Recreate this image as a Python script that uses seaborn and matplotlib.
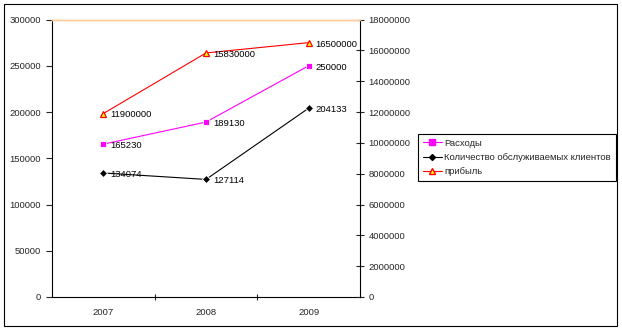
import matplotlib
matplotlib.use("Agg")
import matplotlib.pyplot as plt
import seaborn as sns
import pandas as pd
from matplotlib.patches import Rectangle
from matplotlib.ticker import FuncFormatter, FixedLocator
from matplotlib.lines import Line2D

years = ["2007", "2008", "2009"]
expenses = [165230, 189130, 250000]
clients = [134074, 127114, 204133]
profit = [11900000, 15830000, 16500000]
names = ["Расходы", "Количество обслуживаемых клиентов", "прибыль"]

sns.set_theme(style="white")
plt.rcParams["font.family"] = ["Liberation Sans", "DejaVu Sans"]
FS = 6.8

df1 = pd.DataFrame({"year": years * 2,
                    "value": expenses + clients,
                    "series": [names[0]] * 3 + [names[1]] * 3})
df2 = pd.DataFrame({"year": years, "value": profit, "series": [names[2]] * 3})

W, H = 622, 332
fig = plt.figure(figsize=(W / 100, H / 100), dpi=100)
fig.patch.set_facecolor("white")
ax = fig.add_axes([52 / W, (H - 297) / H, 308 / W, 277.5 / H])
ax2 = ax.twinx()

pal = {names[0]: "#FF00FF", names[1]: "#000000"}
sns.lineplot(data=df1, x="year", y="value", hue="series", style="series",
             palette=pal, markers={names[0]: "s", names[1]: "D"},
             dashes=False, lw=0.8, markersize=4, markeredgewidth=0.6,
             ax=ax, legend=False, sort=False)
sns.lineplot(data=df2, x="year", y="value", color="#FF0000", marker="^",
             markersize=5, markerfacecolor="#FFFF00", markeredgecolor="#FF0000",
             markeredgewidth=0.9, lw=0.8, ax=ax2, legend=False, sort=False)

for i, y in enumerate(years):
    for vals, a in ((expenses, ax), (clients, ax), (profit, ax2)):
        a.annotate(str(vals[i]), (i, vals[i]), xytext=(5, -1),
                   textcoords="offset points", ha="left", va="center",
                   fontsize=FS, color="black")

ax.set_xlim(-0.5, 2.5)
ax.set_ylim(0, 300000)
ax2.set_ylim(0, 18000000)
ax.set_yticks(range(0, 300001, 50000))
ax2.set_yticks(range(0, 18000001, 2000000))
fmt = FuncFormatter(lambda v, p: f"{int(round(v))}")
ax.yaxis.set_major_formatter(fmt)
ax2.yaxis.set_major_formatter(fmt)
ax.set_xlabel("")
ax.set_ylabel("")
ax2.set_ylabel("")
ax.set_xticks(range(len(years)))
ax.set_xticklabels(years)
ax.xaxis.set_minor_locator(FixedLocator([0.5, 1.5]))

ax.tick_params(axis="x", which="major", length=0, pad=8, labelsize=FS)
ax.tick_params(axis="x", which="minor", direction="inout", length=5,
               width=0.8, bottom=True)
ax.tick_params(axis="y", which="major", direction="out", length=4,
               width=0.8, pad=4, labelsize=FS, left=True)
ax2.tick_params(axis="y", which="major", direction="inout", length=6,
                width=0.8, pad=3, labelsize=FS, right=True)

for a in (ax, ax2):
    for s in ("left", "right", "bottom"):
        a.spines[s].set_color("black")
        a.spines[s].set_linewidth(0.8)
    a.spines["top"].set_color("#FFCC99")
    a.spines["top"].set_linewidth(1.0)
    a.grid(False)
ax.spines["right"].set_visible(False)
ax2.spines["left"].set_visible(False)
ax2.spines["bottom"].set_visible(False)

handles = [
    Line2D([], [], color="#FF00FF", marker="s", lw=0.8, markersize=4),
    Line2D([], [], color="#000000", marker="D", lw=0.8, markersize=3),
    Line2D([], [], color="#FF0000", marker="^", lw=0.8, markersize=5,
           markerfacecolor="#FFFF00", markeredgecolor="#FF0000"),
]
leg = fig.legend(handles, names, loc="upper left",
                 bbox_to_anchor=(418 / W, (H - 134) / H),
                 bbox_transform=fig.transFigure, fontsize=FS, frameon=True,
                 fancybox=False, framealpha=1, edgecolor="black",
                 borderaxespad=0, handlelength=2.0, handletextpad=0.3,
                 labelspacing=0.55, borderpad=0.5)
leg.get_frame().set_linewidth(0.8)

fig.patches.append(Rectangle((4 / W, (H - 326) / H), 613 / W, 322 / H,
                             transform=fig.transFigure, fill=False,
                             edgecolor="black", linewidth=0.8))

fig.savefig("out.png", dpi=100)
